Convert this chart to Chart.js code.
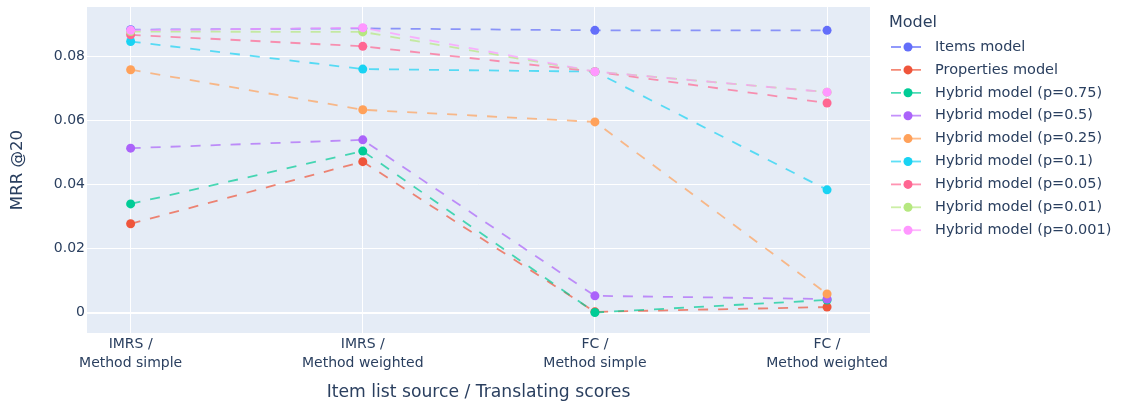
<!DOCTYPE html>
<html><head><meta charset="utf-8">
<script src="https://cdn.jsdelivr.net/npm/chart.js@4/dist/chart.umd.min.js"></script>
<style>html,body{margin:0;padding:0;background:#fff}#wrap{width:1121px;height:405px}</style>
</head><body><div id="wrap"><canvas id="c" width="1121" height="405"></canvas></div>
<script>
// ---- data ----
const categories = [["IMRS /", "Method simple"], ["IMRS /", "Method weighted"], ["FC /", "Method simple"], ["FC /", "Method weighted"]];
const seriesNames = ["Items model", "Properties model", "Hybrid model (p=0.75)", "Hybrid model (p=0.5)", "Hybrid model (p=0.25)", "Hybrid model (p=0.1)", "Hybrid model (p=0.05)", "Hybrid model (p=0.01)", "Hybrid model (p=0.001)"];
const itemsModel  = [0.0883, 0.0887, 0.0881, 0.0881];
const propsModel  = [0.0277, 0.0471, 0.0002, 0.0017];
const hybrid075   = [0.0339, 0.0504, 0.0000, 0.0039];
const hybrid05    = [0.0513, 0.0539, 0.0052, 0.0042];
const hybrid025   = [0.0758, 0.0633, 0.0595, 0.0058];
const hybrid01    = [0.0846, 0.0760, 0.0752, 0.0383];
const hybrid005   = [0.0867, 0.0831, 0.0752, 0.0654];
const hybrid001   = [0.0877, 0.0876, 0.0752, 0.0688];
const hybrid0001  = [0.0881, 0.0889, 0.0752, 0.0688];
const seriesValues = [itemsModel, propsModel, hybrid075, hybrid05, hybrid025, hybrid01, hybrid005, hybrid001, hybrid0001];
const colors = ["#636efa", "#EF553B", "#00cc96", "#ab63fa", "#FFA15A", "#19d3f3", "#FF6692", "#B6E880", "#FF97FF"];
const yTicks = [0, 0.02, 0.04, 0.06, 0.08];

const FONT = "'DejaVu Sans', Verdana, sans-serif";
const TXT = "#2a3f5f";

function alpha(hex, a) {
  const n = parseInt(hex.slice(1), 16);
  return `rgba(${(n >> 16) & 255},${(n >> 8) & 255},${n & 255},${a})`;
}

const datasets = seriesNames.map((name, i) => ({
  label: name,
  data: seriesValues[i].map((v, j) => ({x: j, y: v})),
  borderColor: alpha(colors[i], 0.7),
  backgroundColor: colors[i],
  pointBackgroundColor: colors[i],
  pointBorderColor: colors[i],
  pointRadius: 4.5,
  pointBorderWidth: 0,
  borderWidth: 1.8,
  borderDash: [10, 10],
  tension: 0,
  order: -i
}));

const bgPlugin = {
  id: 'bg',
  beforeDraw(chart) {
    const a = chart.chartArea, ctx = chart.ctx;
    ctx.save();
    ctx.fillStyle = '#E5ECF6';
    ctx.fillRect(a.left, a.top, a.right - a.left, a.bottom - a.top);
    ctx.restore();
  }
};

const legendPlugin = {
  id: 'customLegend',
  afterDraw(chart) {
    const ctx = chart.ctx;
    ctx.save();
    ctx.fillStyle = TXT;
    ctx.textBaseline = 'middle';
    ctx.textAlign = 'left';
    ctx.font = `16px ${FONT}`;
    ctx.fillText('Model', 889, 23);
    chart.data.datasets.forEach((ds, i) => {
      const y = 47 + i * 22.9;
      ctx.strokeStyle = ds.borderColor;
      ctx.lineWidth = ds.borderWidth;
      ctx.setLineDash([10, 10]);
      ctx.beginPath();
      ctx.moveTo(891, y); ctx.lineTo(925, y);
      ctx.stroke();
      ctx.setLineDash([]);
      ctx.fillStyle = ds.pointBackgroundColor;
      ctx.beginPath();
      ctx.arc(908, y, 4.5, 0, Math.PI * 2);
      ctx.fill();
      ctx.fillStyle = TXT;
      ctx.font = `14.5px ${FONT}`;
      ctx.fillText(ds.label, 935, y);
    });
    ctx.restore();
  }
};

new Chart(document.getElementById('c'), {
  type: 'line',
  data: {datasets},
  plugins: [bgPlugin, legendPlugin],
  options: {
    responsive: false,
    animation: false,
    devicePixelRatio: 1,
    layout: {padding: {left: 0, right: 251, top: 7, bottom: 0}},
    plugins: {legend: {display: false}, tooltip: {enabled: false}},
    scales: {
      x: {
        type: 'linear',
        min: -0.188, max: 3.185,
        afterFit(s) { s.height = 72; s.paddingLeft = 0; s.paddingRight = 0; },
        afterBuildTicks(s) { s.ticks = categories.map((c, i) => ({value: i})); },
        ticks: {
          stepSize: 1, includeBounds: false, autoSkip: false, maxRotation: 0,
          padding: 1.3, color: TXT, font: {family: FONT, size: 14, lineHeight: 1.38},
          callback: (v) => categories[v]
        },
        grid: {color: '#ffffff', lineWidth: 1, drawTicks: false},
        border: {display: false},
        title: {display: true, text: 'Item list source / Translating scores', color: TXT,
          font: {family: FONT, size: 17.2}, padding: {top: 0, bottom: 2}}
      },
      y: {
        type: 'linear',
        min: -0.0064, max: 0.09538,
        afterFit(s) { s.width = 87; s.paddingTop = 0; s.paddingBottom = 0; },
        afterBuildTicks(s) { s.ticks = yTicks.map(v => ({value: v})); },
        ticks: {
          padding: 2, color: TXT, font: {family: FONT, size: 14},
          callback: (v) => v === 0 ? '0' : v.toFixed(2)
        },
        grid: {color: '#ffffff', lineWidth: (c) => (c.tick && c.tick.value === 0) ? 2 : 1, drawTicks: false},
        border: {display: false},
        title: {display: true, text: 'MRR @20', color: TXT,
          font: {family: FONT, size: 16.6}, padding: {top: 8, bottom: 0}}
      }
    }
  }
});
</script>
</body></html>
